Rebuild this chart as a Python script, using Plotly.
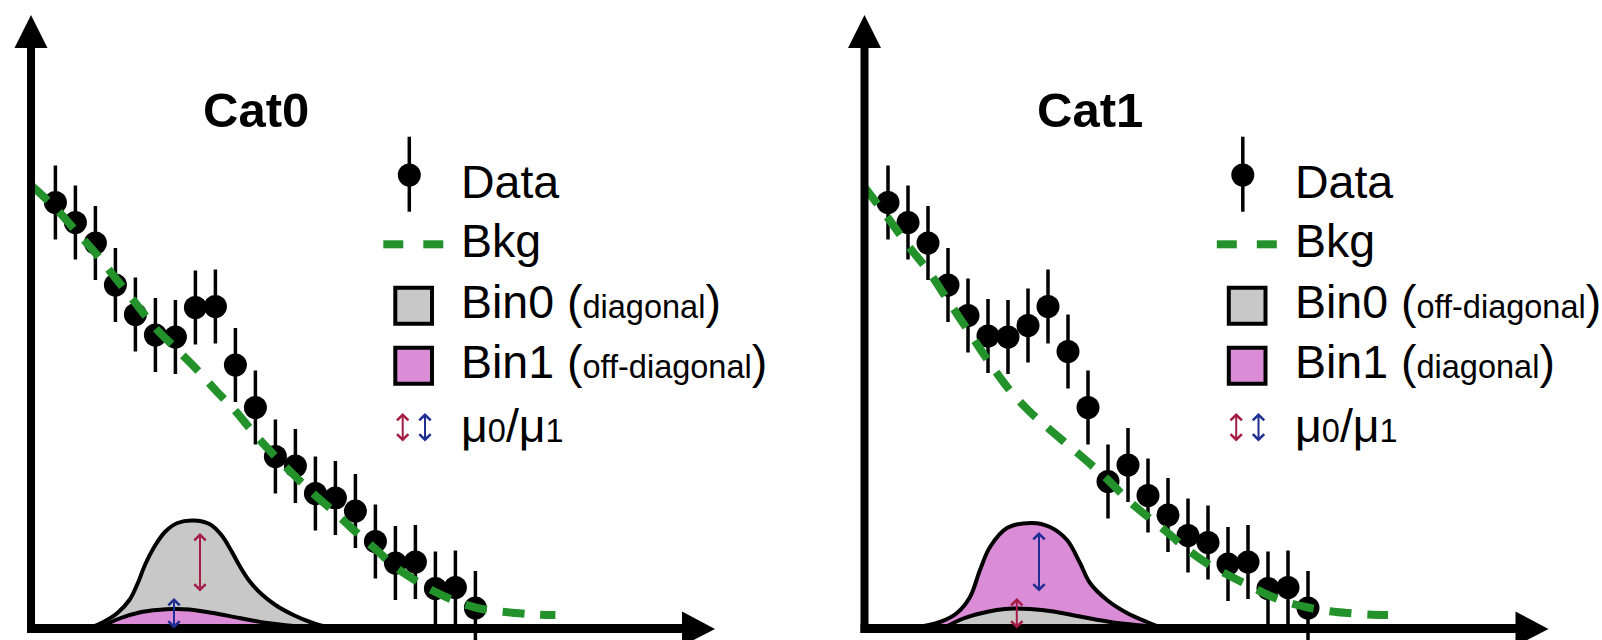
import plotly.graph_objects as go

W, H = 1602, 640

# ---------------- data ----------------
bins = list(range(1, 23))
cat0_data = [85.1, 81.1, 77.0, 68.6, 62.7, 58.6, 58.2, 64.1, 64.3, 52.6, 44.1,
             34.3, 32.4, 26.9, 26.0, 23.4, 17.3, 13.0, 13.2, 7.9, 8.1, 4.0]
cat1_data = [85.1, 81.1, 77.0, 68.6, 62.5, 58.4, 58.2, 60.5, 64.3, 55.3, 44.1,
             29.3, 32.6, 26.5, 22.6, 18.5, 17.1, 12.8, 13.2, 7.9, 8.1, 4.0]
data_err = 7.4

bkg_x = [-0.2, 1, 2, 3, 4, 5, 6, 7, 8, 9, 10, 11, 12, 13, 14, 15, 16, 17, 18, 19,
         20, 21, 22, 23, 24, 25, 26]
cat0_bkg = [88.5, 84.0, 79.5, 75.0, 70.0, 65.0, 60.0, 56.0, 52.0, 47.6, 43.4, 38.6,
            34.3, 30.3, 26.5, 23.0, 19.3, 15.8, 12.2, 9.5, 7.2, 5.4, 4.1, 3.4, 3.0, 2.7, 2.6]
cat1_bkg = [88.3, 82.0, 76.5, 71.5, 65.5, 59.5, 53.5, 48.0, 43.6, 40.0, 36.6, 33.2,
            29.6, 25.6, 22.2, 19.0, 15.6, 12.8, 10.6, 8.6, 6.6, 5.1, 4.1, 3.4, 3.0, 2.7, 2.6]

# Cat0 signal: Bin1 (pink, bottom) and Bin0+Bin1 total (grey top)
cat0_tot_x = [2.7, 3.4, 4.1, 4.7, 5.1, 5.5, 6.0, 6.5, 7.1, 7.9, 8.7, 9.3, 9.8, 10.2,
              10.7, 11.3, 12.0, 12.9, 13.8, 14.7]
cat0_tot_y = [0.0, 1.2, 3.0, 5.6, 8.8, 12.8, 16.6, 19.3, 21.0, 21.5, 20.8, 18.6, 15.4,
              12.5, 9.4, 6.8, 4.6, 2.6, 1.1, 0.0]
cat0_low_x = [3.2, 4.2, 5.2, 6.1, 6.9, 7.7, 8.9, 10.2, 11.6, 12.9, 13.9]
cat0_low_y = [0.0, 1.9, 3.1, 3.6, 3.8, 3.7, 3.0, 2.0, 1.0, 0.4, 0.0]

# Cat1 signal: Bin0 (grey, bottom) and Bin1+Bin0 total (pink top)
cat1_tot_x = [2.2, 3.6, 4.45, 5.1, 5.6, 6.1, 6.95, 8.2, 9.1, 9.95, 10.6, 11.1, 11.95,
              12.95, 13.95, 14.75]
cat1_tot_y = [0.0, 1.2, 3.0, 6.2, 11.6, 16.2, 20.0, 21.0, 20.2, 17.6, 13.0, 9.0, 5.6,
              3.0, 1.2, 0.0]
cat1_low_x = [3.77, 4.77, 5.6, 6.43, 7.27, 8.1, 9.27, 10.6, 12.27, 13.93, 14.6]
cat1_low_y = [0.0, 1.9, 2.9, 3.6, 3.9, 3.8, 3.3, 2.3, 1.1, 0.4, 0.0]

# mu arrows (x, y_top, y_bottom)
cat0_mu0 = (8.23, 19.0, 7.0)
cat0_mu1 = (6.93, 6.0, -0.4)
cat1_mu0 = (7.44, 6.0, -0.4)
cat1_mu1 = (8.55, 19.2, 7.0)

titles = ["Cat0", "Cat1"]
SMALL = "<span style='font-size:32.5px'>{}</span>"
legend_labels = [
    ["Data", "Bkg", "Bin0 (" + SMALL.format("diagonal") + ")",
     "Bin1 (" + SMALL.format("off-diagonal") + ")",
     "μ" + SMALL.format("0") + "/μ" + SMALL.format("1")],
    ["Data", "Bkg", "Bin0 (" + SMALL.format("off-diagonal") + ")",
     "Bin1 (" + SMALL.format("diagonal") + ")",
     "μ" + SMALL.format("0") + "/μ" + SMALL.format("1")],
]

# ---------------- styles ----------------
GREY = "#c8c8c8"
PINK = "#da8cd6"
GREEN = "#23922b"
RED = "#a51c45"
BLUE = "#1f2e92"
FONT = "Liberation Sans, Arial, Helvetica, sans-serif"

fig = go.Figure()


def X(p):
    return p / W


def Y(p):
    return 1 - p / H


def add_panel(xa, ya, tot_x, tot_y, tot_col, low_x, low_y, low_col, data, bkg):
    fig.add_trace(go.Scatter(x=tot_x, y=tot_y, mode="lines", fill="tozeroy",
                             fillcolor=tot_col,
                             line=dict(color="black", width=4, shape="spline"),
                             xaxis=xa, yaxis=ya, hoverinfo="skip"))
    fig.add_trace(go.Scatter(x=low_x, y=low_y, mode="lines", fill="tozeroy",
                             fillcolor=low_col,
                             line=dict(color="black", width=4, shape="spline"),
                             xaxis=xa, yaxis=ya, hoverinfo="skip"))
    fig.add_trace(go.Scatter(x=bins, y=data, mode="markers",
                             marker=dict(color="black", size=23),
                             error_y=dict(type="constant", value=data_err,
                                          thickness=3.5, width=0, color="black"),
                             xaxis=xa, yaxis=ya, hoverinfo="skip"))
    fig.add_trace(go.Scatter(x=bkg_x, y=bkg, mode="lines",
                             line=dict(color=GREEN, width=8, dash="22px,16px",
                                       shape="spline"),
                             xaxis=xa, yaxis=ya, hoverinfo="skip"))


add_panel("x", "y", cat0_tot_x, cat0_tot_y, GREY, cat0_low_x, cat0_low_y, PINK,
          cat0_data, cat0_bkg)
add_panel("x2", "y2", cat1_tot_x, cat1_tot_y, PINK, cat1_low_x, cat1_low_y, GREY,
          cat1_data, cat1_bkg)

shapes = []
annotations = []


def mu_arrow(xr, yr, spec, color):
    x, yt, yb = spec
    annotations.append(dict(xref=xr, yref=yr, axref=xr, ayref=yr, x=x, y=yt, ax=x, ay=yb,
                            text="", showarrow=True, arrowside="end+start",
                            arrowhead=4, startarrowhead=4, arrowsize=1.1,
                            startarrowsize=1.1, arrowwidth=2, arrowcolor=color,
                            standoff=0, startstandoff=0))


mu_arrow("x", "y", cat0_mu0, RED)
mu_arrow("x", "y", cat0_mu1, BLUE)
mu_arrow("x2", "y2", cat1_mu0, RED)
mu_arrow("x2", "y2", cat1_mu1, BLUE)

for k, x0 in enumerate([31, 864.5]):
    # axes with big arrow heads
    shapes.append(dict(type="line", xref="paper", yref="paper", x0=X(x0), x1=X(x0),
                       y0=Y(633), y1=Y(46), line=dict(color="black", width=8),
                       layer="above"))
    shapes.append(dict(type="path", xref="paper", yref="paper",
                       path=f"M {X(x0-16.5)} {Y(48)} L {X(x0)} {Y(15)} L {X(x0+16.5)} {Y(48)} Z",
                       fillcolor="black", line=dict(width=0), layer="above"))
    shapes.append(dict(type="line", xref="paper", yref="paper", x0=X(x0 - 4),
                       x1=X(x0 + 652), y0=Y(628.5), y1=Y(628.5),
                       line=dict(color="black", width=9), layer="above"))
    shapes.append(dict(type="path", xref="paper", yref="paper",
                       path=f"M {X(x0+651)} {Y(611.5)} L {X(x0+684)} {Y(629)} L {X(x0+651)} {Y(646)} Z",
                       fillcolor="black", line=dict(width=0), layer="above"))

    off = 833.5 * k
    # title
    annotations.append(dict(xref="paper", yref="paper", x=X(256 + off), y=Y(110),
                            xanchor="center", yanchor="middle", showarrow=False,
                            text=f"<b>{titles[k]}</b>",
                            font=dict(family=FONT, size=49, color="black")))
    # legend symbols
    shapes.append(dict(type="line", xref="paper", yref="paper", x0=X(409.3 + off),
                       x1=X(409.3 + off), y0=Y(136.7), y1=Y(211.7),
                       line=dict(color="black", width=3.5)))
    shapes.append(dict(type="circle", xref="paper", yref="paper", x0=X(397.8 + off),
                       x1=X(420.8 + off), y0=Y(163.5), y1=Y(186.5),
                       fillcolor="black", line=dict(width=0)))
    for a in (383.3, 423.3):
        shapes.append(dict(type="rect", xref="paper", yref="paper", x0=X(a + off),
                           x1=X(a + 20 + off), y0=Y(240.3), y1=Y(248.3),
                           fillcolor=GREEN, line=dict(width=0)))
    for (t, col) in ((285.7, GREY), (345.7, PINK)):
        shapes.append(dict(type="rect", xref="paper", yref="paper", x0=X(395.3 + off),
                           x1=X(432.0 + off), y0=Y(t + 2), y1=Y(t + 38),
                           fillcolor=col, line=dict(color="black", width=4)))
    for (ax_, col) in ((402.7, RED), (425.0, BLUE)):
        annotations.append(dict(xref="paper", yref="paper", x=X(ax_ + off), y=Y(413),
                                ax=0, ay=30, text="", showarrow=True,
                                arrowside="end+start", arrowhead=4, startarrowhead=4,
                                arrowsize=1.1, startarrowsize=1.1, arrowwidth=2,
                                arrowcolor=col, standoff=0, startstandoff=0))
    # legend text
    for lab, yc in zip(legend_labels[k], [182.0, 241.3, 302.3, 362.3, 425.6]):
        annotations.append(dict(xref="paper", yref="paper", x=X(459 + off), y=Y(yc),
                                xanchor="left", yanchor="middle", showarrow=False,
                                text=lab, font=dict(family=FONT, size=46.5, color="black")))

ax_common = dict(visible=False, showgrid=False, zeroline=False, fixedrange=True)
fig.update_layout(
    width=W, height=H, margin=dict(l=0, r=0, t=0, b=0),
    paper_bgcolor="white", plot_bgcolor="white", showlegend=False,
    xaxis=dict(domain=[0, 0.5], range=[1 - 55.4 / 20, 1 + (801 - 55.4) / 20], **ax_common),
    yaxis=dict(domain=[0, 1], range=[-12 / 5, 628 / 5], anchor="x", **ax_common),
    xaxis2=dict(domain=[0.5, 1], range=[1 - (888 - 801) / 20, 1 + (1602 - 888) / 20],
                anchor="y2", **ax_common),
    yaxis2=dict(domain=[0, 1], range=[-12 / 5, 628 / 5], anchor="x2", **ax_common),
    shapes=shapes, annotations=annotations,
)

fig.write_html("out.html", config={"displayModeBar": False, "staticPlot": True},
               post_script="document.body.style.margin='0';document.body.style.overflow='hidden';")
